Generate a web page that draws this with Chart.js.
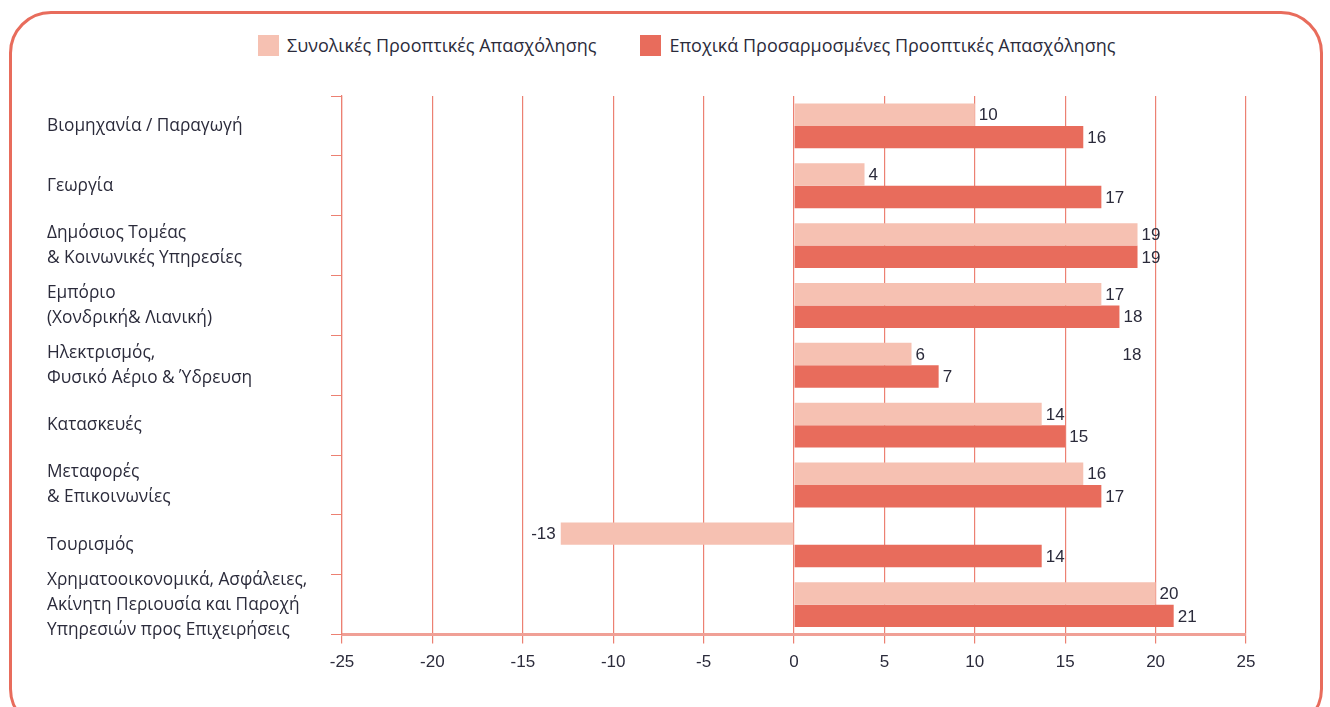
<!DOCTYPE html>
<html>
<head>
<meta charset="utf-8">
<script src="https://cdn.jsdelivr.net/npm/chart.js@4.4.1/dist/chart.umd.min.js"></script>
<style>
  html, body { margin: 0; padding: 0; background: #fff; }
  #frame {
    position: absolute; left: 9px; top: 11px; width: 1314px; height: 720px;
    border: 3px solid #e86c5c; border-radius: 42px; box-sizing: border-box;
  }
  #legend {
    position: absolute; top: 34px; left: 258px; display: flex;
    font-family: "Open Sans", sans-serif; font-size: 18px; color: #2b2b3b;
  }
  #legend .item { display: flex; align-items: center; margin-right: 44px; height: 22px; }
  #legend .box { width: 21px; height: 21px; margin-right: 8px; }
  #wrap { position: absolute; left: 0; top: 0; width: 1330px; height: 707px; }
</style>
</head>
<body>
<div id="frame"></div>
<div id="legend"></div>
<div id="wrap"><canvas id="jobsChart"></canvas></div>
<script>
// Κατηγορίες και τιμές
const sectors = [
  'Βιομηχανία / Παραγωγή',
  'Γεωργία',
  ['Δημόσιος Τομέας', '& Κοινωνικές Υπηρεσίες'],
  ['Εμπόριο', '(Χονδρική& Λιανική)'],
  ['Ηλεκτρισμός,', 'Φυσικό Αέριο & Ύδρευση'],
  'Κατασκευές',
  ['Μεταφορές', '& Επικοινωνίες'],
  'Τουρισμός',
  ['Χρηματοοικονομικά, Ασφάλειες,', 'Ακίνητη Περιουσία και Παροχή', 'Υπηρεσιών προς Επιχειρήσεις']
];
const seriesNames = ['Συνολικές Προοπτικές Απασχόλησης', 'Εποχικά Προσαρμοσμένες Προοπτικές Απασχόλησης'];
// μήκη ράβδων όπως φαίνονται στο γράφημα
const totalValues = [10, 3.9, 19, 17, 6.5, 13.7, 16, -12.9, 20];
const seasonalValues = [16, 17, 19, 18, 8, 15, 17, 13.7, 21];
// ετικέτες τιμών όπως τυπώνονται
const totalLabels = ['10', '4', '19', '17', '6', '14', '16', '-13', '20'];
const seasonalLabels = ['16', '17', '19', '18', '7', '15', '17', '14', '21'];
// αδέσποτη ετικέτα στη γραμμή Ηλεκτρισμός
const strayLabel = { index: 4, value: 18, text: '18' };
const xTicks = [-25, -20, -15, -10, -5, 0, 5, 10, 15, 20, 25];

const lightColor = '#f6c1b2';
const darkColor = '#e86c5c';
const gridColor = '#ec8072';
const textColor = '#2b2b3b';
const textFont = '"Open Sans", sans-serif';
const numFont = '"Liberation Sans", Arial, sans-serif';

// HTML legend
const legendEl = document.getElementById('legend');
[lightColor, darkColor].forEach((c, i) => {
  const item = document.createElement('div');
  item.className = 'item';
  item.innerHTML = '<span class="box" style="background:' + c + '"></span><span>' + seriesNames[i] + '</span>';
  legendEl.appendChild(item);
});

const valueLabels = {
  id: 'valueLabels',
  afterDatasetsDraw(chart) {
    const ctx = chart.ctx;
    const texts = [totalLabels, seasonalLabels];
    ctx.save();
    ctx.font = '17px ' + numFont;
    ctx.fillStyle = textColor;
    ctx.textBaseline = 'middle';
    chart.data.datasets.forEach((ds, di) => {
      chart.getDatasetMeta(di).data.forEach((bar, i) => {
        const neg = ds.data[i] < 0;
        ctx.textAlign = neg ? 'right' : 'left';
        ctx.fillText(texts[di][i], bar.x + (neg ? -5 : 4), bar.y + 1);
      });
    });
    const ref = chart.getDatasetMeta(0).data[strayLabel.index];
    ctx.textAlign = 'left';
    ctx.fillText(strayLabel.text, chart.scales.x.getPixelForValue(strayLabel.value) + 3, ref.y + 1);
    ctx.restore();
  }
};

const ctx = document.getElementById('jobsChart').getContext('2d');
const jobsChart = new Chart(ctx, {
  type: 'bar',
  data: {
    labels: sectors,
    datasets: [
      {
        label: seriesNames[0],
        data: totalValues,
        backgroundColor: lightColor,
        categoryPercentage: 0.75,
        barPercentage: 1
      },
      {
        label: seriesNames[1],
        data: seasonalValues,
        backgroundColor: darkColor,
        categoryPercentage: 0.75,
        barPercentage: 1
      }
    ]
  },
  options: {
    indexAxis: 'y',
    responsive: true,
    maintainAspectRatio: false,
    animation: false,
    layout: { padding: { left: 47, top: 96, right: 84, bottom: 25 } },
    plugins: {
      legend: { display: false },
      tooltip: { enabled: false }
    },
    scales: {
      x: {
        min: -25,
        max: 25,
        afterBuildTicks: (scale) => { scale.ticks = xTicks.map(v => ({ value: v })); },
        grid: { color: gridColor, lineWidth: 1.2, drawTicks: true, tickLength: 9 },
        border: { color: '#f0a096', width: 3 },
        ticks: { color: textColor, font: { family: numFont, size: 17 }, padding: 9 }
      },
      y: {
        afterFit: (scale) => { scale.width = 295; },
        grid: { offset: true, drawOnChartArea: false, drawTicks: true, tickLength: 11, color: gridColor },
        border: { color: gridColor, width: 1.2 },
        ticks: {
          autoSkip: false,
          crossAlign: 'far',
          color: textColor,
          font: { family: textFont, size: 17.3, lineHeight: 1.45 }
        }
      }
    }
  },
  plugins: [valueLabels]
});
</script>
</body>
</html>
